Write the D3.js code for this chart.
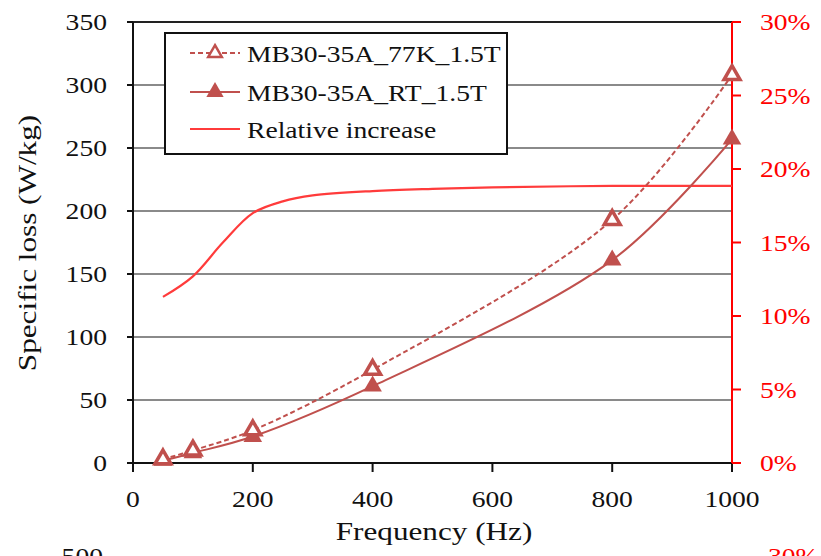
<!DOCTYPE html>
<html><head><meta charset="utf-8">
<script src="https://cdn.jsdelivr.net/npm/d3@7"></script>
<style>body{margin:0;background:#fff}svg{display:block}</style>
</head><body>
<svg id="c" width="821" height="556"></svg>
<script>
const freqs = [50, 100, 200, 400, 800, 1000];
const loss77K = [3, 10, 26, 74, 193, 308];
const lossRT = [2, 8, 21, 61, 161, 257];
const relFreqs = [50, 100, 150, 200, 250, 300, 400, 500, 600, 800, 1000];
const relIncrease = [11.3, 12.7, 15.0, 17.0, 17.8, 18.2, 18.5, 18.65, 18.75, 18.85, 18.85];
const xTicks = [0, 200, 400, 600, 800, 1000];
const yTicks = [0, 50, 100, 150, 200, 250, 300, 350];
const rTicks = [0, 5, 10, 15, 20, 25, 30];
const seriesNames = ["MB30-35A_77K_1.5T", "MB30-35A_RT_1.5T", "Relative increase"];

const svg = d3.select("#c");
const x = d3.scaleLinear().domain([0, 1000]).range([133, 732]);
const y = d3.scaleLinear().domain([0, 350]).range([463, 22]);
const yR = d3.scaleLinear().domain([0, 30]).range([463, 22]);
const serC = "#c0504d", relC = "#ff3b3b";
const FS = 24, SX = 1.15;

function txt(sel, tx, ty, s, o = {}) {
  return sel.append("text")
    .attr("transform", `translate(${tx},${ty})${o.rot ? " rotate(" + o.rot + ")" : ""} scale(${o.sx || SX},1)`)
    .attr("text-anchor", o.anchor || "start")
    .attr("font-size", o.fs || FS)
    .attr("fill", o.fill || "#111")
    .style("font-family", '"Liberation Serif", "Times New Roman", serif')
    .text(s);
}

// gridlines
svg.append("g").selectAll("line").data(yTicks.filter(d => d > 0)).join("line")
  .attr("x1", x(0)).attr("x2", x(1000)).attr("y1", d => y(d)).attr("y2", d => y(d))
  .attr("stroke", d => d === 350 ? "#222" : "#8a8a8a").attr("stroke-width", d => d === 350 ? 2 : 1.8);

// left axis
svg.append("line").attr("x1", x(0)).attr("x2", x(0)).attr("y1", y(0)).attr("y2", y(350)).attr("stroke", "#111").attr("stroke-width", 2);
svg.append("g").selectAll("line").data(yTicks).join("line")
  .attr("x1", x(0) - 6).attr("x2", x(0)).attr("y1", d => y(d)).attr("y2", d => y(d)).attr("stroke", "#111").attr("stroke-width", 2);
const gl = svg.append("g");
yTicks.forEach(d => txt(gl, 107, y(d) + 8, d, { anchor: "end" }));

// bottom axis
svg.append("line").attr("x1", x(0) - 6).attr("x2", x(1000)).attr("y1", y(0)).attr("y2", y(0)).attr("stroke", "#111").attr("stroke-width", 2);
svg.append("g").selectAll("line").data(xTicks).join("line")
  .attr("x1", d => x(d)).attr("x2", d => x(d)).attr("y1", y(0)).attr("y2", y(0) + 9).attr("stroke", "#111").attr("stroke-width", 2);
const gb = svg.append("g");
xTicks.forEach(d => txt(gb, x(d), 507, d, { anchor: "middle" }));

// right axis
svg.append("line").attr("x1", x(1000)).attr("x2", x(1000)).attr("y1", yR(0)).attr("y2", yR(30)).attr("stroke", "#ff0000").attr("stroke-width", 2);
svg.append("g").selectAll("line").data(rTicks).join("line")
  .attr("x1", x(1000)).attr("x2", x(1000) + 9).attr("y1", d => yR(d)).attr("y2", d => yR(d)).attr("stroke", "#ff0000").attr("stroke-width", 2);
const gr = svg.append("g");
rTicks.forEach(d => txt(gr, 760, yR(d) + 8, d + "%", { fill: "#ff0000" }));

// axis titles
txt(svg, 434, 540, "Frequency (Hz)", { anchor: "middle", fs: 26, sx: 1.2 });
txt(svg, 36, 243, "Specific loss (W/kg)", { anchor: "middle", fs: 26, sx: 1.2, rot: -90 });

// cut-off labels of the chart below
txt(svg, 103, 564, "500", { anchor: "end" });
txt(svg, 768, 564, "30%", { fill: "#ff0000" });

const curve = d3.curveCatmullRom.alpha(0.5);
// relative increase
const relLine = d3.line().x((d, i) => x(relFreqs[i])).y(d => yR(d)).curve(curve);
svg.append("path").attr("d", relLine(relIncrease)).attr("fill", "none").attr("stroke", relC).attr("stroke-width", 2.2);

const lineL = d3.line().x((d, i) => x(freqs[i])).y(d => y(d)).curve(curve);
svg.append("path").attr("d", lineL(loss77K)).attr("fill", "none").attr("stroke", serC).attr("stroke-width", 2).attr("stroke-dasharray", "5,3");
svg.append("path").attr("d", lineL(lossRT)).attr("fill", "none").attr("stroke", serC).attr("stroke-width", 2);

const tri = d3.symbol().type(d3.symbolTriangle);
svg.append("g").selectAll("path").data(lossRT).join("path")
  .attr("d", tri.size(150)()).attr("transform", (d, i) => `translate(${x(freqs[i])},${y(d)})`).attr("fill", serC);
svg.append("g").selectAll("path").data(loss77K).join("path")
  .attr("d", tri.size(110)()).attr("transform", (d, i) => `translate(${x(freqs[i])},${y(d)})`).attr("fill", "#fff").attr("stroke", serC).attr("stroke-width", 3.5);

// legend
const lg = svg.append("g");
lg.append("rect").attr("x", 165).attr("y", 33).attr("width", 342).attr("height", 121).attr("fill", "#fff").attr("stroke", "#111").attr("stroke-width", 2);
const rows = [53, 92, 129];
lg.append("line").attr("x1", 190).attr("x2", 240).attr("y1", rows[0]).attr("y2", rows[0]).attr("stroke", serC).attr("stroke-width", 2).attr("stroke-dasharray", "5,3");
lg.append("path").attr("d", tri.size(80)()).attr("transform", `translate(215,${rows[0]})`).attr("fill", "#fff").attr("stroke", serC).attr("stroke-width", 2.5);
lg.append("line").attr("x1", 190).attr("x2", 240).attr("y1", rows[1]).attr("y2", rows[1]).attr("stroke", serC).attr("stroke-width", 2);
lg.append("path").attr("d", tri.size(130)()).attr("transform", `translate(215,${rows[1]})`).attr("fill", serC);
lg.append("line").attr("x1", 190).attr("x2", 240).attr("y1", rows[2]).attr("y2", rows[2]).attr("stroke", relC).attr("stroke-width", 2);
seriesNames.forEach((s, i) => txt(lg, 247, rows[i] + 9, s));
</script>
</body></html>
